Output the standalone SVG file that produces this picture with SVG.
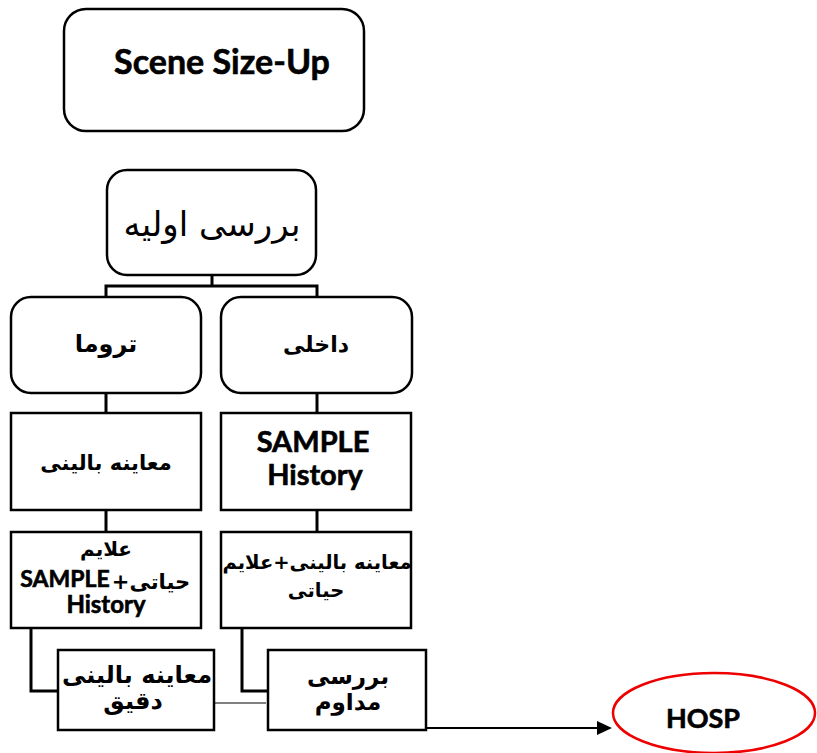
<svg xmlns="http://www.w3.org/2000/svg" width="817" height="753" viewBox="0 0 817 753">
  <style>
    .box { fill: #fff; stroke: #000; stroke-width: 2.5; }
    .wire { fill: none; stroke: #000; stroke-width: 3; }
    .thin { fill: none; stroke: #000; stroke-width: 1; }
    .en { font-family: Lato, "Open Sans", sans-serif; font-weight: bold; fill: #000; stroke: #000; stroke-width: 0.6; text-anchor: middle; }
    .fa { font-family: "DejaVu Sans", sans-serif; font-weight: bold; fill: #000; text-anchor: middle; }
  </style>
  <rect width="817" height="753" fill="#fff"/>

  <g id="connectors">
    <path class="wire" d="M212,275 V286 M106,297 V286 H317 V297"/>
    <path class="wire" d="M106,393 V413 M317,393 V413"/>
    <path class="wire" d="M106,510 V532 M317,510 V532"/>
    <path class="wire" d="M31,628 V691 H58"/>
    <path class="wire" d="M242,628 V691 H268"/>
    <path class="thin" d="M210,703 H266"/>
    <line x1="425" y1="728" x2="597" y2="728" stroke="#000" stroke-width="2"/>
    <path d="M597,721 L612,728 L597,735 Z" fill="#000"/>
  </g>

  <g id="scene-size-up">
    <rect class="box" x="64" y="9" width="300" height="122" rx="22"/>
    <text class="en" x="222" y="74" font-size="34">Scene Size-Up</text>
  </g>

  <g id="primary-assessment">
    <rect class="box" x="107" y="170" width="209" height="105" rx="20"/>
    <text x="212" y="236" font-family="DejaVu Sans, sans-serif" font-size="34" text-anchor="middle">بررسی اولیه</text>
  </g>

  <g id="trauma">
    <rect class="box" x="11" y="297" width="190" height="96" rx="20"/>
    <text class="fa" x="106" y="352" font-size="24">تروما</text>
  </g>

  <g id="medical">
    <rect class="box" x="221" y="297" width="191" height="96" rx="20"/>
    <text class="fa" x="316" y="352" font-size="22">داخلی</text>
  </g>

  <g id="physical-exam">
    <rect class="box" x="11" y="413" width="190" height="97"/>
    <text class="fa" x="106" y="470" font-size="21">معاینه بالینی</text>
  </g>

  <g id="sample-history">
    <rect class="box" x="221" y="413" width="190" height="97"/>
    <text class="en" x="313" y="452" font-size="29">SAMPLE</text>
    <text class="en" x="315" y="485" font-size="29">History</text>
  </g>

  <g id="vitals-sample">
    <rect class="box" x="11" y="532" width="190" height="96"/>
    <text class="fa" x="106" y="556" font-size="20">علایم</text>
    <text class="en" x="65" y="587" font-size="23">SAMPLE</text>
    <text class="fa" x="151" y="589" font-size="21">+حیاتی</text>
    <text class="en" x="106" y="613" font-size="24">History</text>
  </g>

  <g id="exam-vitals">
    <rect class="box" x="221" y="532" width="190" height="96"/>
    <text class="fa" x="317" y="569" font-size="19.5">معاینه بالینی+علایم</text>
    <text class="fa" x="316" y="597" font-size="19.5">حیاتی</text>
  </g>

  <g id="detailed-exam">
    <rect class="box" x="58" y="650" width="156" height="80"/>
    <text class="fa" x="137" y="683" font-size="24">معاینه بالینی</text>
    <text class="fa" x="133" y="709" font-size="24">دقیق</text>
  </g>

  <g id="ongoing-assessment">
    <rect class="box" x="268" y="650" width="158" height="80"/>
    <text class="fa" x="348" y="684" font-size="23">بررسی</text>
    <text class="fa" x="348" y="710" font-size="23">مداوم</text>
  </g>

  <g id="hosp">
    <ellipse cx="714" cy="713" rx="101" ry="40" fill="#fff" stroke="#e00" stroke-width="2.5"/>
    <text class="en" x="703" y="728" font-size="27">HOSP</text>
  </g>
</svg>
